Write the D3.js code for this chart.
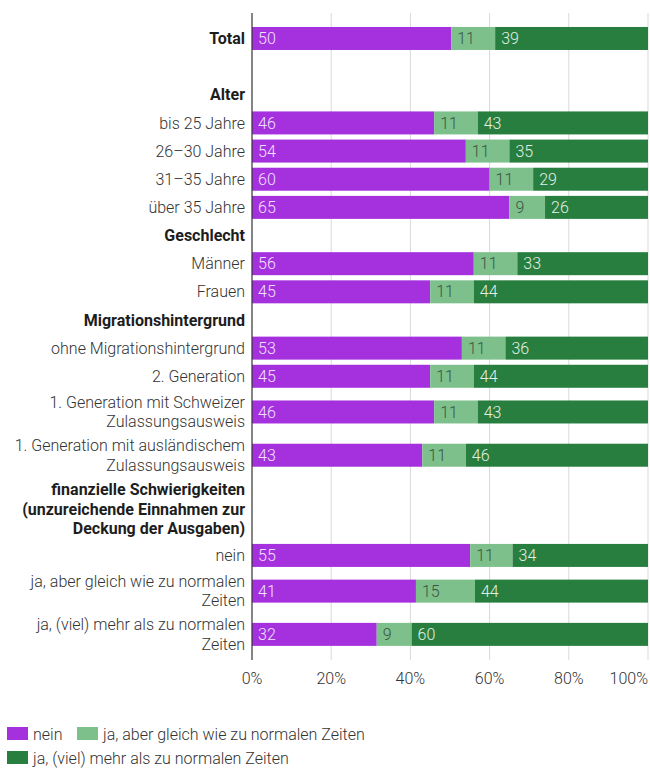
<!DOCTYPE html>
<html>
<head>
<meta charset="utf-8">
<script src="https://cdn.jsdelivr.net/npm/d3@7"></script>
<style>
  body { margin: 0; background: #fff; }
  svg text { font-family: Roboto, "Noto Sans", sans-serif; }
</style>
</head>
<body>
<div id="chart"></div>
<script>
// row labels (\n = line break), "head" rows are group titles, "gap" an empty row
const rowLabels = [
  "Total", "", "Alter", "bis 25 Jahre", "26–30 Jahre", "31–35 Jahre", "über 35 Jahre",
  "Geschlecht", "Männer", "Frauen",
  "Migrationshintergrund", "ohne Migrationshintergrund", "2. Generation",
  "1. Generation mit Schweizer\nZulassungsausweis", "1. Generation mit ausländischem\nZulassungsausweis",
  "finanzielle Schwierigkeiten\n(unzureichende Einnahmen zur\nDeckung der Ausgaben)",
  "nein", "ja, aber gleich wie zu normalen\nZeiten", "ja, (viel) mehr als zu normalen\nZeiten"
];
const rowTypes = ["bold", "gap", "head", "bar", "bar", "bar", "bar",
  "head", "bar", "bar",
  "head", "bar", "bar", "bar", "bar",
  "head", "bar", "bar", "bar"];

const seriesNames = ["nein", "ja, aber gleich wie zu normalen Zeiten", "ja, (viel) mehr als zu normalen Zeiten"];
// values per row in % (null for title / empty rows), labels shown rounded
const nein   = [50.3, null, null, 46, 54, 60, 65, null, 56, 45, null, 53, 45, 46, 43, null, 55.1, 41.4, 31.5];
const gleich = [11.1, null, null, 11, 11, 11, 9,  null, 11, 11, null, 11, 11, 11, 11, null, 10.7, 14.9, 8.8];
const mehr   = [38.6, null, null, 43, 35, 29, 26, null, 33, 44, null, 36, 44, 43, 46, null, 34.2, 43.7, 59.7];
const xTicks = [0, 20, 40, 60, 80, 100];

const colors = ["#a431dd", "#7dc08c", "#277e3f"];
const textColors = ["#f3e0ff", "#3b5442", "#e3efe5"];

const W = 650, H = 769;
const x0 = 252, x1 = 648;
const plotTop = 24.4;

const svg = d3.select("#chart").append("svg")
  .attr("width", W).attr("height", H);

// row layout: height depends on number of label lines
const lineCount = rowLabels.map(d => d.split("\n").length);
const rowH = lineCount.map(n => n === 1 ? 28.15 : n === 2 ? 43.25 : 64.5);
const centers = [];
let acc = plotTop;
rowH.forEach(h => { centers.push(acc + h / 2); acc += h; });

const x = d3.scaleLinear().domain([0, 100]).range([x0, x1]).clamp(true);
const y = d3.scaleOrdinal().domain(d3.range(rowLabels.length)).range(centers);
const barH = 23;

// grid
svg.append("g")
  .selectAll("line")
  .data(xTicks.slice(1))
  .join("line")
    .attr("x1", d => x(d)).attr("x2", d => x(d))
    .attr("y1", 13).attr("y2", 660)
    .attr("stroke", "#d9d9d9").attr("stroke-width", 1);

// stacked bars
const rows = d3.range(rowLabels.length)
  .filter(i => nein[i] != null)
  .map(i => ({ i, nein: nein[i], gleich: gleich[i], mehr: mehr[i] }));
const stack = d3.stack().keys(["nein", "gleich", "mehr"])(rows);

stack.forEach((layer, k) => {
  const g = svg.append("g");
  g.selectAll("rect")
    .data(layer)
    .join("rect")
      .attr("x", d => x(d[0]))
      .attr("width", d => x(d[1]) - x(d[0]))
      .attr("y", d => y(d.data.i) - barH / 2)
      .attr("height", barH)
      .attr("fill", colors[k]);
  g.selectAll("text")
    .data(layer)
    .join("text")
      .attr("x", d => x(d[0]) + 6)
      .attr("y", d => y(d.data.i))
      .attr("dy", "0.35em")
      .attr("font-size", 16)
      .attr("font-weight", 300)
      .attr("fill", textColors[k])
      .text(d => Math.round(d[1] - d[0]));
});

// axis line
svg.append("line")
  .attr("x1", x0).attr("x2", x0)
  .attr("y1", 13).attr("y2", 660)
  .attr("stroke", "#333").attr("stroke-width", 1.2);

// row labels
const lh = 19.5;
rowLabels.forEach((lab, i) => {
  if (!lab) return;
  const lines = lab.split("\n");
  const isBold = rowTypes[i] === "head" || rowTypes[i] === "bold";
  const t = svg.append("text")
    .attr("text-anchor", "end")
    .attr("font-size", 16)
    .attr("font-weight", isBold ? 700 : 300)
    .attr("fill", isBold ? "#1d1d1d" : "#333");
  lines.forEach((l, j) => {
    t.append("tspan")
      .attr("x", 245)
      .attr("y", y(i) + (j - (lines.length - 1) / 2) * lh)
      .attr("dy", "0.35em")
      .text(l);
  });
});

// x tick labels
svg.append("g")
  .selectAll("text")
  .data(xTicks)
  .join("text")
    .attr("x", d => x(d))
    .attr("y", 678)
    .attr("dy", "0.35em")
    .attr("text-anchor", d => d === 100 ? "end" : "middle")
    .attr("font-size", 16)
    .attr("font-weight", 300)
    .attr("fill", "#333")
    .text(d => d + "%");

// legend
const legendPos = [[7, 734], [77, 734], [7, 758]];
seriesNames.forEach((name, k) => {
  const [lx, ly] = legendPos[k];
  svg.append("rect")
    .attr("x", lx).attr("y", ly - 7)
    .attr("width", 21).attr("height", 13)
    .attr("fill", colors[k]);
  svg.append("text")
    .attr("x", lx + 26).attr("y", ly)
    .attr("dy", "0.35em")
    .attr("font-size", 16)
    .attr("font-weight", 300)
    .attr("fill", "#333")
    .text(name);
});
</script>
</body>
</html>
